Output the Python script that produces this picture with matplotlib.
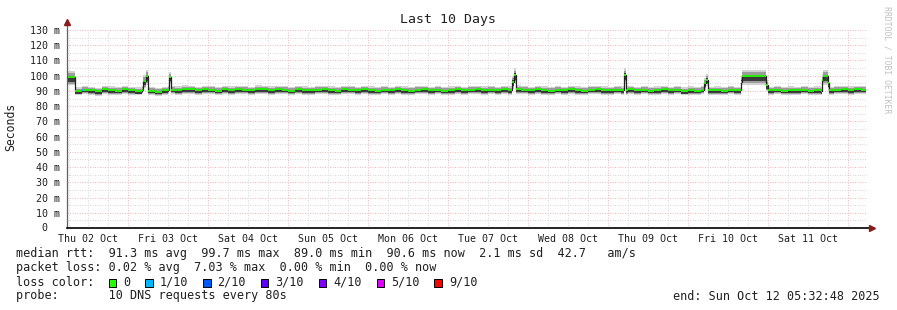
import matplotlib.pyplot as plt
from matplotlib.patches import Rectangle
import numpy as np

plt.rcParams['font.family'] = ['DejaVu Sans Mono']

# time axis: hours since Thu 02 Oct 00:00
t_start = 5.547
t_end = 245.547
day_labels = ['Thu 02 Oct', 'Fri 03 Oct', 'Sat 04 Oct', 'Sun 05 Oct', 'Mon 06 Oct',
              'Tue 07 Oct', 'Wed 08 Oct', 'Thu 09 Oct', 'Fri 10 Oct', 'Sat 11 Oct']

# median rtt (ms), 2-hour steps from hour 8 to 244
base_hours = np.arange(8, 245, 2)
base_ms = [90.0, 90.9, 90.5, 89.8, 91.0, 90.6, 90.2, 91.1, 90.4, 90.0, 90.8, 90.2,
           89.6, 90.5, 90.8, 90.6, 91.2, 91.0, 90.4, 91.1, 90.8, 90.2, 91.0, 90.6,
           91.1, 90.8, 90.4, 91.2, 91.0, 90.6, 91.1, 90.8, 90.2, 91.0, 90.6, 90.4,
           90.8, 91.1, 90.6, 90.2, 91.0, 90.8, 90.4, 91.1, 90.6, 90.2, 90.8, 90.4,
           91.0, 90.6, 90.2, 90.8, 91.1, 90.4, 90.8, 90.2, 90.6, 91.0, 90.4, 90.8,
           91.1, 90.6, 90.8, 90.4, 91.0, 90.6, 91.2, 90.8, 90.4, 91.0, 90.6, 90.2,
           90.8, 90.4, 91.0, 90.6, 90.2, 90.8, 91.1, 90.6, 90.4, 90.8, 90.6, 91.0,
           90.4, 90.8, 90.2, 90.6, 91.0, 90.4, 90.8, 90.0, 90.6, 90.2, 90.8, 90.4,
           90.6, 90.2, 90.8, 90.4, 90.0, 90.8, 90.2, 90.6, 90.4, 90.8, 90.2, 90.6,
           90.4, 90.8, 90.2, 90.6, 90.0, 90.4, 90.8, 91.0, 90.6, 91.1, 90.8]

# spikes / plateaus: start hour, end hour, median ms, smoke spread
ev_start = [5.547, 28.4, 29.2, 36.3, 139.2, 139.7, 172.8, 196.9, 197.5, 207.9, 208.4, 215.6, 232.3, 232.7, 234.0]
ev_end = [8.0, 29.2, 29.8, 36.8, 139.7, 140.3, 173.5, 197.5, 198.2, 208.4, 215.6, 216.2, 232.7, 234.0, 234.3]
ev_ms = [99.0, 96.5, 99.5, 99.0, 96.0, 100.5, 100.5, 95.0, 97.5, 96.0, 99.5, 94.0, 97.0, 99.5, 95.0]
ev_spread = [1.8, 1.6, 1.8, 1.5, 1.6, 1.8, 1.8, 1.4, 1.4, 1.6, 1.8, 1.4, 1.6, 1.8, 1.4]

# packet loss spans
loss_start = [9.8]
loss_end = [10.3]
loss_idx = [1]

loss_labels = ['0', '1/10', '2/10', '3/10', '4/10', '5/10', '9/10']
loss_colors = ['#26ff00', '#00b8ff', '#0059ff', '#5e00ff', '#7e00ff', '#dd00ff', '#ff0000']

# build step series
edges = sorted(set([t_start, t_end] + list(base_hours) + ev_start + ev_end + loss_start + loss_end))
edges = [e for e in edges if t_start <= e <= t_end]
med, spr, col = [], [], []
for e in edges:
    i = int(np.clip((e - 8) // 2, 0, len(base_ms) - 1))
    m, s = base_ms[i], 1.0
    for a, b, v, sp in zip(ev_start, ev_end, ev_ms, ev_spread):
        if a <= e < b:
            m, s = v, sp
    c = loss_colors[0]
    for a, b, k in zip(loss_start, loss_end, loss_idx):
        if a <= e < b:
            c = loss_colors[k]
    med.append(m); spr.append(s); col.append(c)
t = np.array(edges)
med = np.array(med)
spr = np.array(spr)

W, H = 897, 310
fig = plt.figure(figsize=(W / 100, H / 100), dpi=100)
ax = fig.add_axes([67 / W, 1 - 228 / H, (866 - 67) / W, (228 - 30) / H])
ax.set_xlim(t_start, t_end)
ax.set_ylim(0, 130)
for s in ax.spines.values():
    s.set_visible(False)

# grid
minor_c, major_c = '#d8d8d8', '#eebcbc'
for y in range(5, 131, 10):
    ax.axhline(y, color=minor_c, lw=0.72, ls=(0, (1, 1.5)), zorder=0)
for y in range(10, 131, 10):
    ax.axhline(y, color=major_c, lw=0.72, ls=(0, (1, 1.5)), zorder=0)
for h in range(6, 246, 6):
    if h % 24:
        ax.axvline(h, color=minor_c, lw=0.72, ls=(0, (1, 1.5)), zorder=0)
for h in range(24, 246, 24):
    ax.axvline(h, color=major_c, lw=0.72, ls=(0, (1, 1.5)), zorder=0)

# smoke
ax.fill_between(t, med - 3.0 * spr, med + 2.4 * spr, step='post', color='#d2d2d2', lw=0, zorder=1)
ax.fill_between(t, med - 2.3 * spr, med + 1.5 * spr, step='post', color='#9c9c9c', lw=0, zorder=2)
ax.fill_between(t, med - 1.8 * spr, med + 0.6 * spr, step='post', color='#3c3c3c', lw=0, zorder=3)

# median
ax.step(t, med, where='post', color='#202020', lw=0.9, zorder=4)
ax.hlines(med[:-1], t[:-1], t[1:], colors=col[:-1], lw=1.3, zorder=5)

# ticks
ax.set_xticks(np.arange(12, 241, 24), day_labels)
ax.set_yticks(range(10, 131, 10), [f'{v} m' for v in range(10, 131, 10)])
ax.tick_params(length=0, labelsize=7.2, colors='#202020')
ax.tick_params(axis='y', pad=5)
ax.tick_params(axis='x', pad=4)
ax.text(-0.024, 0, '0', transform=ax.transAxes, ha='right', va='center', fontsize=7.2, color='#202020')

# axes with arrows
ax.plot([0, 0], [0, 1.04], transform=ax.transAxes, color='#606060', lw=0.9, clip_on=False, zorder=6)
ax.plot([0, 1.007], [0, 0], transform=ax.transAxes, color='black', lw=1.2, clip_on=False, zorder=6)
ax.plot([0], [1.04], marker='^', ms=4, color='#8b1a1a', transform=ax.transAxes, clip_on=False, zorder=7)
ax.plot([1.007], [0], marker='>', ms=4, color='#8b1a1a', transform=ax.transAxes, clip_on=False, zorder=7)


def fx(px):
    return px / W


def fy(py):
    return 1 - py / H


fig.text(fx(11), fy(127), 'Seconds', rotation=90, ha='center', va='center', fontsize=8.3, color='#202020')
fig.text(fx(448), fy(19), 'Last 10 Days', ha='center', va='center', fontsize=9.5, color='#202020')
fig.text(fx(887), fy(60), 'RRDTOOL / TOBI OETIKER', rotation=270, ha='center', va='center',
         fontsize=5.9, color='#c0c0c0')

fs = 8.5
tc = '#202020'
fig.text(fx(16), fy(254), 'median rtt:  91.3 ms avg  99.7 ms max  89.0 ms min  90.6 ms now  2.1 ms sd  42.7   am/s',
         ha='left', va='center', fontsize=fs, color=tc)
fig.text(fx(16), fy(268), 'packet loss: 0.02 % avg  7.03 % max  0.00 % min  0.00 % now',
         ha='left', va='center', fontsize=fs, color=tc)
fig.text(fx(16), fy(282), 'loss color:', ha='left', va='center', fontsize=fs, color=tc)
fig.text(fx(16), fy(296), 'probe:       10 DNS requests every 80s', ha='left', va='center', fontsize=fs, color=tc)
fig.text(fx(880), fy(296), 'end: Sun Oct 12 05:32:48 2025', ha='right', va='center', fontsize=fs, color=tc)

x = 108.7
cw = 7.08
for lab, c in zip(loss_labels, loss_colors):
    fig.add_artist(Rectangle((fx(x), fy(286.5)), 7.5 / W, 8 / H, transform=fig.transFigure,
                             facecolor=c, edgecolor='black', lw=0.7))
    fig.text(fx(x + 14.5), fy(282), lab, ha='left', va='center', fontsize=fs, color=tc)
    x = x + 14.5 + len(lab) * cw + 15

fig.savefig('out.png', dpi=100)
